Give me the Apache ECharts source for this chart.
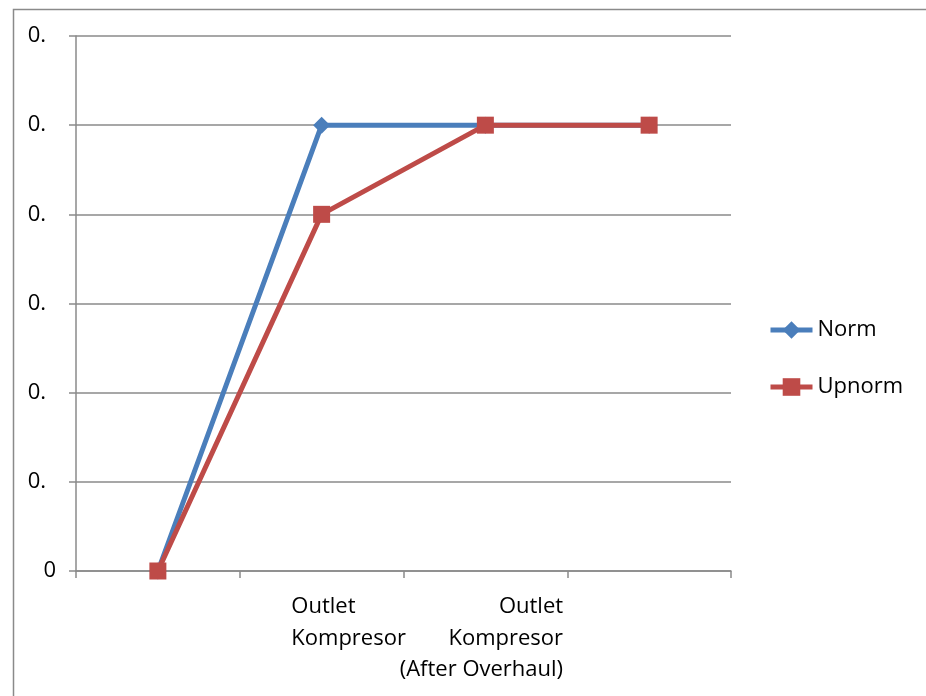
<!DOCTYPE html>
<html>
<head>
<meta charset="utf-8">
<script src="https://cdn.jsdelivr.net/npm/echarts@6/dist/echarts.min.js"></script>
<style>
  html, body { margin: 0; padding: 0; background: #fff; }
  #chart { width: 926px; height: 696px; }
</style>
</head>
<body>
<div id="chart"></div>
<script>
// Category axis (four points, only the middle two are labelled)
const categories = ['', 'Outlet Kompresor', 'Outlet Kompresor (After Overhaul)', ' '];

// Series values
const normValues = [0, 0.5, 0.5, 0.5];
const upnormValues = [0, 0.4, 0.5, 0.5];

// Value axis range
const yMin = 0;
const yMax = 0.6;
const yStep = 0.1;

const FONT = '"Open Sans", "Liberation Sans", sans-serif';
const GRAY = '#8a8a8a';

const chart = echarts.init(document.getElementById('chart'), null, { renderer: 'canvas' });

chart.setOption({
  animation: false,
  backgroundColor: '#ffffff',
  graphic: [{
    type: 'rect',
    left: 11, top: 7,
    shape: { width: 1000, height: 1000 },
    style: { fill: 'none', stroke: GRAY, lineWidth: 1.5 },
    silent: true
  }],
  grid: { left: 76, top: 36, width: 655, height: 535, containLabel: false },
  legend: {
    orient: 'vertical',
    left: 763,
    top: 314,
    itemWidth: 42,
    itemHeight: 22,
    itemGap: 35,
    lineStyle: { width: 5 },
    textStyle: { fontFamily: FONT, fontSize: 22, color: '#000', lineHeight: 22 },
    data: ['Norm', 'Upnorm']
  },
  xAxis: {
    type: 'category',
    data: categories,
    boundaryGap: true,
    axisLine: { lineStyle: { color: GRAY, width: 1.5 } },
    axisTick: { show: true, length: 7, lineStyle: { color: GRAY, width: 1.5 } },
    axisLabel: {
      interval: 0,
      margin: 20,
      fontFamily: FONT,
      fontSize: 22,
      color: '#000',
      formatter: function (value, idx) {
        if (idx === 1) return '{l|Outlet}\n{l|Kompresor}';
        if (idx === 2) return '{r|Outlet}\n{r|Kompresor}\n{r|(After Overhaul)}';
        return '';
      },
      rich: {
        l: { fontFamily: FONT, fontSize: 22, lineHeight: 31.5, color: '#000', align: 'left', padding: [0, 0, 0, 54] },
        r: { fontFamily: FONT, fontSize: 22, lineHeight: 31.5, color: '#000', align: 'right', padding: [0, 8, 0, 0] }
      }
    },
    splitLine: { show: false }
  },
  yAxis: {
    type: 'value',
    min: yMin,
    max: yMax,
    interval: yStep,
    axisLine: { show: true, lineStyle: { color: GRAY, width: 1.5 } },
    axisTick: { show: true, length: 7, lineStyle: { color: GRAY, width: 1.5 } },
    axisLabel: {
      margin: 20,
      fontFamily: FONT,
      fontSize: 22,
      color: '#000',
      formatter: function (v) { return v === 0 ? '0' : '{a|0.}'; },
      rich: {
        a: { fontFamily: FONT, fontSize: 22, color: '#000', padding: [0, 10, 0, 0] }
      }
    },
    splitLine: { show: true, lineStyle: { color: GRAY, width: 1.5 } }
  },
  series: [
    {
      name: 'Norm',
      type: 'line',
      data: normValues,
      symbol: 'diamond',
      symbolSize: 17,
      color: '#4a7ebb',
      lineStyle: { width: 5, color: '#4a7ebb' },
      itemStyle: { color: '#4a7ebb' }
    },
    {
      name: 'Upnorm',
      type: 'line',
      data: upnormValues,
      symbol: 'rect',
      symbolSize: 17,
      color: '#be4b48',
      lineStyle: { width: 5, color: '#be4b48' },
      itemStyle: { color: '#be4b48' }
    }
  ]
});
</script>
</body>
</html>
